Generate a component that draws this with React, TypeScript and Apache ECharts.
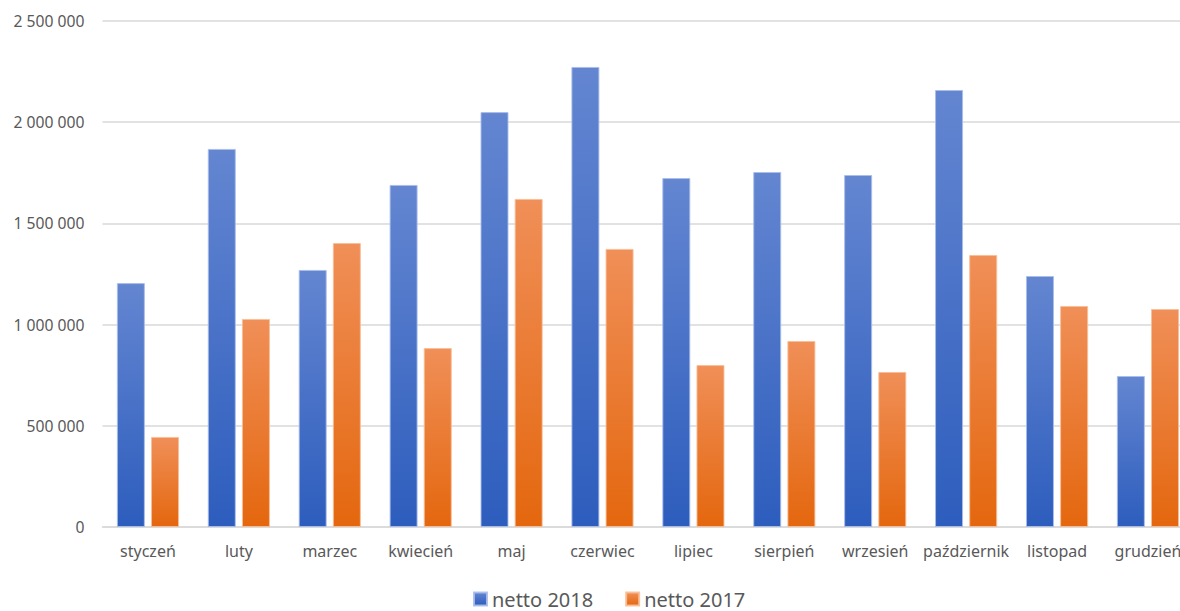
import React, { useEffect, useRef } from "react";
import * as echarts from "echarts";

const categories = ["styczeń", "luty", "marzec", "kwiecień", "maj", "czerwiec", "lipiec", "sierpień", "wrzesień", "październik", "listopad", "grudzień"];
const netto2018 = [1205000, 1868000, 1270000, 1690000, 2050000, 2273000, 1724000, 1754000, 1739000, 2159000, 1240000, 746000];
const netto2017 = [445000, 1028000, 1403000, 884000, 1621000, 1374000, 800000, 919000, 766000, 1344000, 1092000, 1077000];
const seriesNames = ["netto 2018", "netto 2017"];

const fmt = (v: number) => String(Math.round(v)).replace(/\B(?=(\d{3})+(?!\d))/g, " ");

const grad = (top: string, bottom: string) =>
  new echarts.graphic.LinearGradient(0, 0, 0, 1, [
    { offset: 0, color: top },
    { offset: 1, color: bottom },
  ]);

export default function App() {
  const ref = useRef<HTMLDivElement>(null);
  useEffect(() => {
    if (!ref.current) return;
    const chart = echarts.init(ref.current, null, { renderer: "svg" });
    const font = "'Noto Sans', sans-serif";
    chart.setOption({
      animation: false,
      backgroundColor: "#ffffff",
      textStyle: { fontFamily: font },
      grid: { left: 102.5, right: 6.6, top: 21, bottom: 84, containLabel: false },
      legend: {
        data: seriesNames,
        left: 473,
        top: 589,
        padding: 0,
        itemWidth: 13,
        itemHeight: 13,
        itemGap: 32,
        icon: "rect",
        textStyle: { fontSize: 20, lineHeight: 20, color: "#595959", fontFamily: font },
      },
      xAxis: {
        type: "category",
        data: categories,
        axisLine: { lineStyle: { color: "#d9d9d9", width: 1.5 } },
        axisTick: { show: false },
        axisLabel: { color: "#595959", fontSize: 16, margin: 16, interval: 0, fontFamily: font },
      },
      yAxis: {
        type: "value",
        min: 0,
        max: 2500000,
        interval: 500000,
        axisLine: { show: false },
        axisTick: { show: false },
        splitLine: { lineStyle: { color: "#d9d9d9", width: 1.5 } },
        axisLabel: { color: "#595959", fontSize: 15.7, margin: 18, formatter: fmt, fontFamily: font },
      },
      series: [
        {
          name: seriesNames[0],
          type: "bar",
          data: netto2018,
          barWidth: 28,
          barGap: "22%",
          itemStyle: {
            color: grad("#6486d1", "#2d5dbd"),
            borderColor: "rgba(170,190,235,0.9)",
            borderWidth: 1,
          },
        },
        {
          name: seriesNames[1],
          type: "bar",
          data: netto2017,
          barWidth: 28,
          barGap: "22%",
          itemStyle: {
            color: grad("#f08f58", "#e4670e"),
            borderColor: "rgba(248,190,150,0.9)",
            borderWidth: 1,
          },
        },
      ],
    });
    return () => chart.dispose();
  }, []);
  return (
    <div style={{ position: "fixed", left: 0, top: 0, width: 1180, height: 611, overflow: "hidden", background: "#fff" }}>
      <div ref={ref} style={{ width: 1200, height: 611 }} />
    </div>
  );
}
